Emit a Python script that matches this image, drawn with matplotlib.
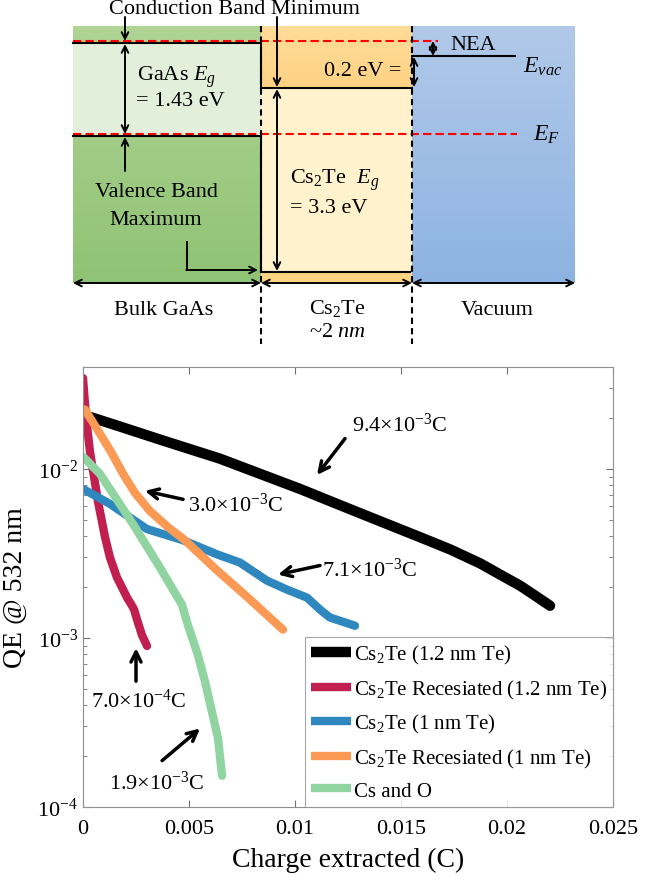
import numpy as np
import matplotlib
matplotlib.use("Agg")
import matplotlib.pyplot as plt
from matplotlib.ticker import FixedLocator, LogLocator, NullFormatter

plt.rcParams['font.family'] = ['Liberation Serif', 'DejaVu Serif']
plt.rcParams['mathtext.fontset'] = 'custom'
plt.rcParams['mathtext.rm'] = 'Liberation Serif'
plt.rcParams['mathtext.it'] = 'Liberation Serif:italic'

# ---- QE decay data (charge extracted in C, QE at 532 nm) ----
q_black = [0.0, 0.001745, 0.00363, 0.00646, 0.00835, 0.01024, 0.01212, 0.01401,
           0.0159, 0.01731, 0.01873, 0.01967, 0.02061, 0.02132, 0.02203]
qe_black = [0.0209, 0.01778, 0.01489, 0.01148, 0.00934, 0.0076, 0.0061, 0.0049,
            0.00394, 0.00334, 0.00276, 0.00237, 0.00204, 0.00178, 0.00155]

q_red = [0.0, 0.00014, 0.00033, 0.00071, 0.00104, 0.00127, 0.0016, 0.00208,
         0.00231, 0.00241, 0.00255, 0.00278, 0.00302]
qe_red = [0.0344, 0.0204, 0.0126, 0.00637, 0.00394, 0.00299, 0.00228, 0.00173,
          0.00155, 0.00147, 0.00128, 0.00104, 0.000896]

q_blue = [0.0, 0.00127, 0.00302, 0.00472, 0.00632, 0.0074, 0.00868, 0.00962,
          0.01057, 0.01118, 0.01165, 0.01283]
qe_blue = [0.0076, 0.0062, 0.0044, 0.00378, 0.00312, 0.00279, 0.00218, 0.00193,
           0.00173, 0.00147, 0.00132, 0.00118]

q_orange = [0.00009, 0.00071, 0.00132, 0.00189, 0.00245, 0.00316, 0.00401, 0.00481,
            0.00623, 0.00778, 0.00943]
qe_orange = [0.0224, 0.01683, 0.0126, 0.00934, 0.0072, 0.00562, 0.00452, 0.00378,
             0.00257, 0.00173, 0.00112]

q_green = [0.0, 0.0008, 0.00236, 0.00354, 0.00467, 0.00495, 0.00542, 0.00575,
           0.00608, 0.00637, 0.00656]
qe_green = [0.0118, 0.00933, 0.00471, 0.00272, 0.00157, 0.00119, 0.000792,
            0.000555, 0.000367, 0.000254, 0.000153]

labels = ['Cs$_2$Te (1.2 nm Te)', 'Cs$_2$Te Recesiated (1.2 nm Te)',
          'Cs$_2$Te (1 nm Te)', 'Cs$_2$Te Recesiated (1 nm Te)', 'Cs and O']
colors = ['#000000', '#c01f4f', '#2f87bf', '#fb9a55', '#90d4a2']

# arrow annotations: text, tip (q, qe), tail (q, qe)
ann_text = ['9.4×10$^{-3}$C', '3.0×10$^{-3}$C', '7.1×10$^{-3}$C',
            '7.0×10$^{-4}$C', '1.9×10$^{-3}$C']
ann_tip = [(0.01104, 0.0092), (0.00292, 0.0074), (0.0092, 0.00237),
           (0.0025, 0.00087), (0.00552, 0.000291)]
ann_tail = [(0.01236, 0.0151), (0.00472, 0.0066), (0.01118, 0.00268),
            (0.0025, 0.000555), (0.00373, 0.000188)]
ann_pos = [(0.01269, 0.0183), (0.00495, 0.0062), (0.01127, 0.00254),
           (0.00264, 0.000427), (0.00349, 0.000141)]
ann_ha = ['left', 'left', 'left', 'center', 'center']

fig = plt.figure(figsize=(6.54, 8.79), dpi=100)

# ---------------- band diagram (drawn in pixel space) ----------------
bd = fig.add_axes([0, 0, 1, 1], zorder=0)
bd.set_xlim(0, 654)
bd.set_ylim(879, 0)
bd.axis('off')

x0, x1, x2, x3 = 73, 261, 412, 575
ytop, ybot = 27, 284
y_cbm, y_vbm = 44, 137
y_cs_cb, y_cs_vb = 89, 273
y_vac = 57


def grad(xa, xb, ya, yb, c_top, c_bot):
    c1 = np.array(matplotlib.colors.to_rgb(c_top))
    c2 = np.array(matplotlib.colors.to_rgb(c_bot))
    t = np.linspace(0, 1, 64)[:, None]
    img = (c1 * (1 - t) + c2 * t)[:, None, :]
    bd.imshow(img, extent=(xa, xb, yb, ya), aspect='auto', zorder=1)


grad(x0, x1, ytop, ybot, '#afd494', '#8fc375')
bd.fill_between([x0, x1], y_cbm, y_vbm, color='#e2efda', zorder=2, lw=0)
grad(x1, x2, ytop, y_cs_cb, '#ffdc9a', '#ffd283')
bd.fill_between([x1, x2], y_cs_cb, y_cs_vb, color='#fff2cc', zorder=2, lw=0)
bd.fill_between([x1, x2], y_cs_vb, ybot, color='#ffd584', zorder=2, lw=0)
grad(x2, x3, ytop, ybot, '#b1c9e9', '#8db3e2')

# red dashed reference levels
bd.plot([x0, 438], [42, 42], color='red', ls=(0, (4, 2)), lw=1.5, zorder=4)
bd.plot([x0, 517], [135, 135], color='red', ls=(0, (4, 2)), lw=1.5, zorder=4)

# black band edges
k = dict(color='black', lw=1.5, zorder=5)
bd.plot([x0, x1], [y_cbm, y_cbm], **k)
bd.plot([x0, x1], [y_vbm, y_vbm], **k)
bd.plot([x1, x2], [y_cs_cb, y_cs_cb], **k)
bd.plot([x1, x2 - 2], [y_cs_vb, y_cs_vb], **k)
bd.plot([x2, 515], [y_vac, y_vac], **k)
bd.plot([x1, x1], [y_cbm, y_cs_cb], **k)
bd.plot([x1, x1], [y_vbm, y_cs_vb], **k)

# dashed interfaces
for xv in (x1, x2):
    bd.plot([xv, xv], [ytop, 345], color='black', ls=(0, (3, 2)), lw=1.5, zorder=6)


def arr(p_from, p_to, style='->'):
    bd.annotate('', xy=p_to, xytext=p_from,
                arrowprops=dict(arrowstyle=style, color='black', lw=1.4,
                                shrinkA=0, shrinkB=0, mutation_scale=12),
                zorder=7)


arr((125, 18), (125, 42))
arr((277, 18), (277, 88))
arr((125, 45), (125, 135), '<->')
arr((125, 172), (125, 138))
arr((277, 90), (277, 272), '<->')
arr((433, 42), (433, 57), '<->')
arr((414, 58), (414, 88), '<->')
bd.plot([187, 187], [243, 271], color='black', lw=1.4, zorder=7)
arr((186.3, 271), (258, 271))
arr((x0, ybot), (x1, ybot), '<->')
arr((x1, ybot), (x2, ybot), '<->')
arr((x2, ybot), (x3, ybot), '<->')

fs = 16
bd.text(234, 9, 'Conduction Band Minimum', ha='center', va='center', fontsize=fs)
bd.text(177, 77, 'GaAs $E_g$', ha='center', va='center', fontsize=fs)
bd.text(180, 101, '= 1.43 eV', ha='center', va='center', fontsize=fs)
bd.text(401, 72, '0.2 eV =', ha='right', va='center', fontsize=fs)
bd.text(450, 45, 'NEA', ha='left', va='center', fontsize=fs)
bd.text(523, 67, '$E_{vac}$', ha='left', va='center', fontsize=fs + 1)
bd.text(533, 135, '$E_F$', ha='left', va='center', fontsize=fs + 1)
bd.text(156, 193, 'Valence Band', ha='center', va='center', fontsize=fs)
bd.text(156, 221, 'Maximum', ha='center', va='center', fontsize=fs)
bd.text(290, 180, 'Cs$_2$Te  $E_g$', ha='left', va='center', fontsize=fs)
bd.text(290, 209, '= 3.3 eV', ha='left', va='center', fontsize=fs)
bd.text(164, 311, 'Bulk GaAs', ha='center', va='center', fontsize=fs)
bd.text(337, 309, 'Cs$_2$Te', ha='center', va='center', fontsize=fs)
bd.text(337, 333, '~2 $nm$', ha='center', va='center', fontsize=fs)
bd.text(497, 311, 'Vacuum', ha='center', va='center', fontsize=fs)

# ---------------- QE plot ----------------
ax = fig.add_axes([83 / 654, 71 / 879, 530 / 654, 440 / 879], zorder=2)
series = [(q_black, qe_black), (q_red, qe_red), (q_blue, qe_blue),
          (q_orange, qe_orange), (q_green, qe_green)]
widths = [7.5, 6, 6, 6, 6]
for (q, qe), lab, c, w in zip(series, labels, colors, widths):
    ax.plot(q, qe, color=c, lw=w, label=lab, solid_capstyle='round',
            solid_joinstyle='round')

ax.set_yscale('log')
ax.set_xlim(0, 0.025)
ax.set_ylim(1e-4, 0.04)
ax.xaxis.set_major_locator(FixedLocator([0, 0.005, 0.01, 0.015, 0.02, 0.025]))
ax.set_xticklabels(['0', '0.005', '0.01', '0.015', '0.02', '0.025'])
ax.yaxis.set_major_locator(LogLocator(base=10, numticks=10))
ax.yaxis.set_minor_locator(LogLocator(base=10, subs=np.arange(2, 10), numticks=10))
ax.yaxis.set_minor_formatter(NullFormatter())
ax.tick_params(which='both', direction='in', top=True, right=True,
               color='#707070', labelsize=16)
ax.tick_params(which='major', length=5)
ax.tick_params(which='minor', length=3)
ax.tick_params(axis='x', pad=9)
for s in ax.spines.values():
    s.set_color('#909090')
    s.set_linewidth(0.8)
ax.set_xlabel('Charge extracted (C)', fontsize=20, labelpad=6)
ax.set_ylabel('QE @ 532 nm', fontsize=20, labelpad=7)

for t, tip, tail, pos, ha in zip(ann_text, ann_tip, ann_tail, ann_pos, ann_ha):
    ax.annotate('', xy=tip, xytext=tail,
                arrowprops=dict(arrowstyle='->', color='black', lw=2.5,
                                shrinkA=0, shrinkB=0, mutation_scale=18))
    ax.text(pos[0], pos[1], t, ha=ha, va='center', fontsize=16)

leg = ax.legend(loc='lower right', bbox_to_anchor=(1, 0), borderaxespad=0,
                fontsize=15, fancybox=False, handlelength=1.9,
                handletextpad=0.15, labelspacing=0.55, borderpad=0.3)
leg.get_frame().set_edgecolor('#909090')
leg.get_frame().set_linewidth(0.8)
for h in leg.legend_handles:
    h.set_solid_capstyle('butt')

fig.savefig('out.png', dpi=100)
